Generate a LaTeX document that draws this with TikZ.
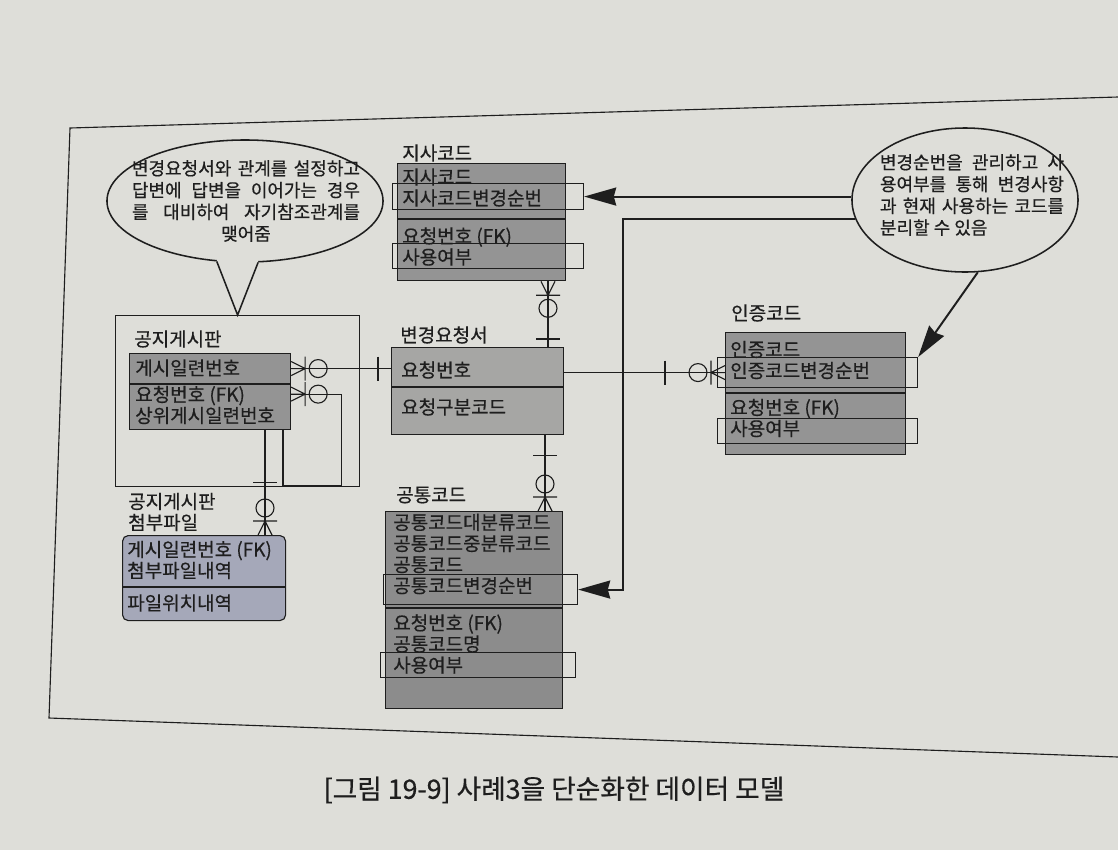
\documentclass[tikz,border=0pt]{standalone}
\usepackage{fontspec}
\setmainfont{Noto Sans CJK KR}[FakeBold=0.5]
\usetikzlibrary{positioning,calc,shapes.geometric,arrows.meta}

\definecolor{paper}{RGB}{222,222,217}
\definecolor{ink}{RGB}{30,30,30}
\definecolor{entgray}{RGB}{148,148,148}
\definecolor{reqgray}{RGB}{166,166,164}
\definecolor{comgray}{RGB}{140,140,140}
\definecolor{attblue}{RGB}{165,168,185}

\begin{document}
\begin{tikzpicture}[x=0.025cm,y=-0.025cm,
    ent/.style={draw=ink,fill=entgray,line width=0.8pt,anchor=north west,inner sep=0pt},
    hilite/.style={draw=ink,line width=0.8pt,anchor=north west,inner sep=0pt,minimum height=0.65cm},
    rowtext/.style={anchor=west,align=left,inner sep=0pt,font=\fontsize{13.5pt}{15pt}\selectfont,text=ink},
    enttitle/.style={rowtext},
    note/.style={ellipse,draw=ink,fill=paper,line width=1.1pt,inner sep=0pt},
    notetext/.style={inner sep=0pt,align=justify,font=\fontsize{12.8pt}{15.5pt}\selectfont,text=ink},
    rel/.style={draw=ink,line width=0.8pt},
    noteArrow/.style={draw=ink,line width=1.4pt,-{Stealth[length=0.8cm,width=0.45cm,inset=0.06cm]}},
    zmany/.pic={\draw[rel] (0,-7) -- (-14,0) -- (0,7) (0,0) -- (-14,0)
                  (-14,-12) -- (-14,12) (-27,0) circle[radius=9];},
    onebar/.pic={\draw[rel] (0,-12) -- (0,12);}
  ]
  \path[use as bounding box,fill=paper] (0,0) rectangle (1118,850);
  \draw[ink,line width=0.8pt] (1118,97) -- (70,128) -- (49,718) -- (1118,757);

  % callouts
  \node[note,minimum width=6.9cm,minimum height=3.05cm] (noteL) at (245,201) {};
  \node[notetext,text width=5.7cm] (noteLtext) at (246,201) {\noindent\parfillskip=0pt
    변경요청서와 관계를 설정하고\linebreak 답변에 답변을 이어가는 경우\linebreak
    를 대비하여 자기참조관계를\linebreak \hspace*{\fill}맺어줌\hspace*{\fill}};
  \node[note,minimum width=5.65cm,minimum height=3.6cm] (noteR) at (965,200) {};
  \node[notetext,text width=4.6cm] (noteRtext) at (972,195) {\noindent
    변경순번을 관리하고 사\linebreak 용여부를 통해 변경사항\linebreak
    과 현재 사용하는 코드를\linebreak 분리할 수 있음};

  % 지사코드
  \node[enttitle] (jisaT) at (402,153) {지사코드};
  \node[ent,minimum width=4.2cm,minimum height=1.375cm] (jisaK) at (397,163) {};
  \node[ent,minimum width=4.2cm,minimum height=1.525cm] (jisaA) at (jisaK.south west) {};
  \node[hilite,minimum width=4.775cm] (jisaSeq) at (392,183) {};
  \node[hilite,minimum width=4.775cm,minimum height=0.625cm] (jisaUse) at (392,243) {};
  \node[rowtext] (jisaKt) at (402,187.5) {지사코드\\지사코드변경순번};
  \node[rowtext] (jisaAt) at (402,246.5) {요청번호 (FK)\\사용여부};

  % 변경요청서
  \node[enttitle] (reqT) at (400,335) {변경요청서};
  \node[ent,fill=reqgray,minimum width=4.3cm,minimum height=0.975cm] (reqK) at (391,347) {};
  \node[ent,fill=reqgray,minimum width=4.3cm,minimum height=1.175cm] (reqA) at (reqK.south west) {};
  \node[rowtext] (reqKt) at (401,370) {요청번호};
  \node[rowtext] (reqAt) at (401,407) {요청구분코드};

  % 인증코드
  \node[enttitle] (authT) at (731,313) {인증코드};
  \node[ent,minimum width=4.5cm,minimum height=1.5cm] (authK) at (725,332) {};
  \node[ent,minimum width=4.5cm,minimum height=1.525cm] (authA) at (authK.south west) {};
  \node[hilite,minimum width=5cm,minimum height=0.75cm] (authSeq) at (717,357) {};
  \node[hilite,minimum width=5cm,minimum height=0.625cm] (authUse) at (717,418) {};
  \node[rowtext] (authKt) at (730,360) {인증코드\\인증코드변경순번};
  \node[rowtext] (authAt) at (730,418) {요청번호 (FK)\\사용여부};

  % 공통코드
  \node[enttitle] (comT) at (396,495) {공통코드};
  \node[ent,fill=comgray,minimum width=4.425cm,minimum height=2.4cm] (comK) at (385,511) {};
  \node[ent,fill=comgray,minimum width=4.425cm,minimum height=2.5cm] (comA) at (comK.south west) {};
  \node[hilite,minimum width=4.85cm,minimum height=0.75cm] (comSeq) at (383,574) {};
  \node[hilite,minimum width=4.875cm,minimum height=0.625cm] (comUse) at (380,652) {};
  \node[rowtext] (comKt) at (393,554) {공통코드대분류코드\\공통코드중분류코드\\공통코드\\공통코드변경순번};
  \node[rowtext] (comAt) at (393,644) {요청번호 (FK)\\공통코드명\\사용여부};

  % 공지게시판
  \node[ent,fill=none,minimum width=6.1cm,minimum height=4.275cm] (gjFrame) at (115,315) {};
  \node[enttitle] (gjT) at (134,339) {공지게시판};
  \node[ent,minimum width=4.025cm,minimum height=0.75cm] (gjK) at (129,353) {};
  \node[ent,minimum width=4.025cm,minimum height=1.125cm] (gjA) at (gjK.south west) {};
  \node[rowtext] (gjKt) at (135,368) {게시일련번호};
  \node[rowtext] (gjAt) at (135,405) {요청번호 (FK)\\상위게시일련번호};

  % 공지게시판 첨부파일
  \node[enttitle] (attT) at (128,512) {공지게시판\\첨부파일};
  \node[ent,fill=attblue,rounded corners=4pt,minimum width=4.075cm,minimum height=2.125cm] (attBox) at (122,535) {};
  \draw[rel] ($(attBox.north west)+(0,52)$) -- ($(attBox.north east)+(0,52)$);
  \node[rowtext] (attKt) at (127,560) {게시일련번호 (FK)\\첨부파일내역};
  \node[rowtext] (attAt) at (127,603) {파일위치내역};

  % pointer of the left callout
  \fill[paper] ($(noteL.245)+(0,-5)$) -- (noteL.245) -- (gjFrame.north) -- (noteL.282) -- ($(noteL.282)+(0,-5)$) -- cycle;
  \draw[ink,line width=1.1pt] (noteL.245) -- (gjFrame.north) -- (noteL.282);

  % relationships
  \draw[rel] (gjK.east) -- (gjK.east -| reqK.west);
  \pic[rotate=180] at (gjK.east) {zmany};
  \pic at ($(gjK.east -| reqK.west)+(-13,0)$) {onebar};

  \draw[rel] ($(gjA.north east)+(0,10)$) -- ++(50,0) |- ($(gjA.south west)+(154,55)$) -- ($(gjA.south west)+(154,0)$);
  \pic[rotate=180] at ($(gjA.north east)+(0,10)$) {zmany};

  \draw[rel] ($(gjA.south west)+(136,0)$) -- ($(attBox.north west)+(143,0)$);
  \pic[rotate=90] at ($(gjA.south west)+(136,52)$) {onebar};
  \pic[rotate=-90] at ($(attBox.north west)+(143,0)$) {zmany};

  \draw[rel] ($(jisaA.south west)+(151,0)$) -- ($(reqK.north west)+(157,0)$);
  \pic[rotate=90] at ($(jisaA.south west)+(151,0)$) {zmany};
  \pic[rotate=90] at ($(reqK.north west)+(157,-8)$) {onebar};

  \draw[rel] ($(reqA.south west)+(154,0)$) -- ($(comK.north west)+(160,0)$);
  \pic[rotate=90] at ($(reqA.south west)+(154,20)$) {onebar};
  \pic[rotate=-90] at ($(comK.north west)+(160,0)$) {zmany};

  \draw[rel] (reqK.east |- authSeq.west) -- (authK.west |- authSeq.west);
  \pic at (authK.west |- authSeq.west) {zmany};
  \pic at ($(authK.west |- authSeq.west)+(-60,0)$) {onebar};

  % arrows from the right callout
  \draw[noteArrow] (jisaSeq.east -| noteR.west) -- (jisaSeq.east);
  \draw[noteArrow] (noteR.190) -| ($(comSeq.east)+(45,0)$) -- (comSeq.east);
  \draw[noteArrow] (noteR.280) -- (authSeq.north east);

  \node[font=\fontsize{19pt}{22pt}\selectfont,text=ink] (caption) at (554,790) {[그림 19-9] 사례3을 단순화한 데이터 모델};
\end{tikzpicture}
\end{document}
